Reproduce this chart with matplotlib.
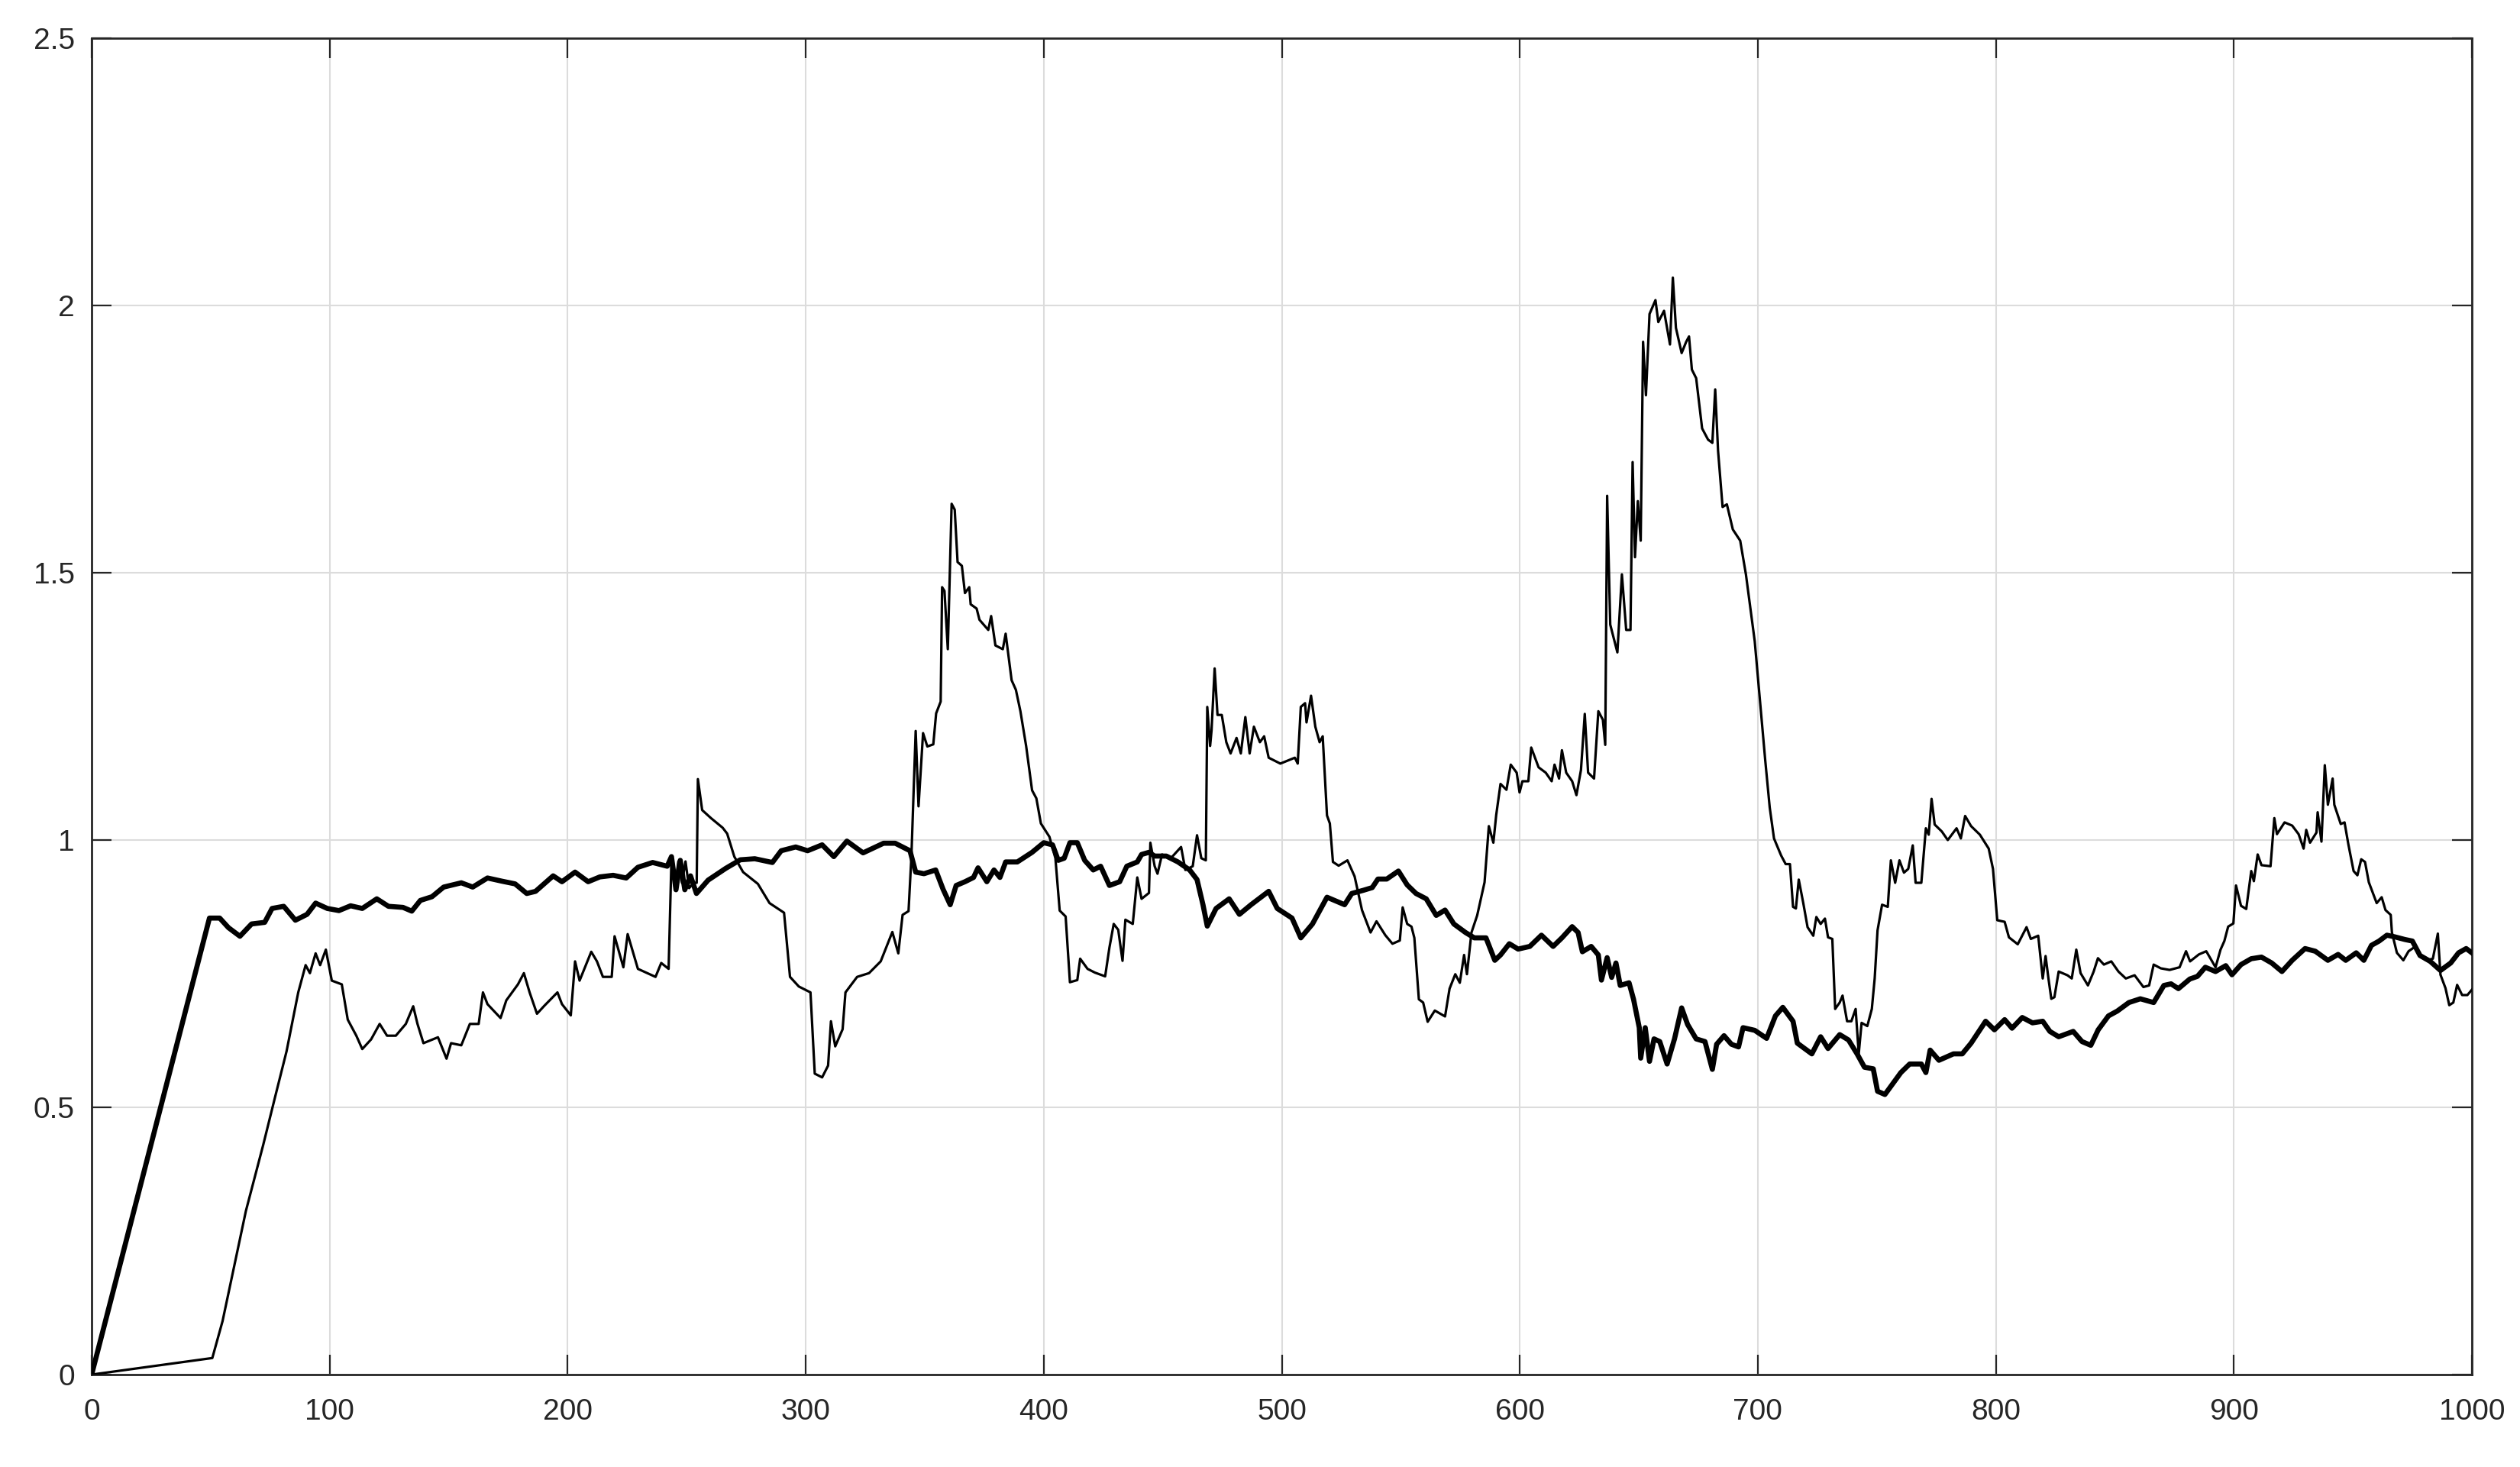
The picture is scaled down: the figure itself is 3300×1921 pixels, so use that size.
import matplotlib
matplotlib.use("Agg")
import matplotlib.pyplot as plt

# series values
x_thick = [0, 49.5, 53.8, 57.5, 62.3, 67.2, 72.7, 75.8, 80.7, 85.6, 90.5, 94.1, 99, 103.9,
           108.8, 113.7, 119.8, 124.7, 130.8, 134.5, 138.1, 143, 147.9, 155.3, 160.1, 166.3,
           172.4, 177.9, 182.8, 186.5, 193.9, 197.6, 203.1, 208.6, 213.5, 219.1, 224.6, 229.5,
           235.7, 241.8, 243.6, 245.5, 247.3, 249.2, 251.6, 254.1, 259, 266.4, 272.5, 278.6,
           286, 289.7, 295.8, 300.8, 306.9, 311.8, 317.3, 324.1, 332.7, 337.6, 343.8, 346.2,
           349.7, 354.6, 357.7, 360.7, 363.2, 366.9, 370.5, 372.4, 376.1, 379.1, 381.6, 384,
           388.9, 395.1, 400, 403.7, 406.1, 408.6, 411, 414.1, 417.2, 420.8, 423.9, 427.6,
           431.9, 434.9, 439.3, 441.1, 444.2, 446.6, 451.5, 456.4, 461.3, 464.4, 466.9, 468.7,
           472.4, 477.9, 482.2, 487.1, 494.5, 498.1, 504.3, 508, 512.9, 519, 522.7, 526.4,
           529.4, 534.3, 538, 540.4, 544.1, 549, 552.7, 556.4, 560.7, 564.9, 568.6, 572.3,
           577.2, 580.9, 585.8, 589.5, 591.9, 595.6, 599.3, 604.2, 609.1, 614, 617.7, 622,
           624.5, 626.3, 630, 633, 634.3, 636.7, 638.6, 640.4, 642.2, 645.9, 647.8, 650.2,
           650.8, 652.7, 654.5, 656.4, 658.8, 661.9, 665, 668, 670.5, 674.1, 677.8, 680.9,
           682.7, 685.8, 688.9, 691.9, 693.8, 698.7, 703.7, 707.4, 710.5, 714.8, 716.6, 722.7,
           726.4, 729.5, 734.4, 738.1, 741.7, 744.8, 748.5, 750.3, 753.4, 756.5, 760.1, 763.8,
           768.7, 770.6, 772.4, 776.1, 782.2, 785.9, 789.6, 795.7, 799.4, 803.7, 806.8, 811.1,
           815.4, 819.7, 822.7, 826.4, 832.5, 836.2, 839.9, 843, 847.3, 851, 855.9, 860.7,
           866.3, 870.6, 873.6, 876.7, 881.5, 884.7, 888, 892.3, 896.6, 899.2, 903, 907.3,
           911.6, 915.9, 920.2, 924.5, 929.9, 934.2, 939.5, 943.8, 947, 951.4, 954.6, 957.8,
           961, 964.3, 967.5, 971.8, 975, 978.2, 982.5, 986.8, 991.1, 994.4, 997.6, 1000]
y_thick = [0, 0.854, 0.854, 0.836, 0.82, 0.843, 0.846, 0.872, 0.876, 0.85, 0.861, 0.882, 0.872, 0.868,
           0.877, 0.872, 0.89, 0.876, 0.874, 0.867, 0.887, 0.894, 0.912, 0.92, 0.912, 0.929,
           0.923, 0.918, 0.9, 0.904, 0.933, 0.922, 0.94, 0.922, 0.931, 0.934, 0.929, 0.949,
           0.958, 0.951, 0.969, 0.907, 0.962, 0.907, 0.933, 0.9, 0.925, 0.947, 0.963, 0.965,
           0.958, 0.98, 0.987, 0.98, 0.991, 0.969, 0.998, 0.976, 0.994, 0.994, 0.98, 0.94,
           0.937, 0.944, 0.908, 0.879, 0.915, 0.922, 0.93, 0.948, 0.922, 0.944, 0.93, 0.959,
           0.959, 0.977, 0.995, 0.991, 0.962, 0.966, 0.995, 0.995, 0.962, 0.944, 0.951, 0.915,
           0.922, 0.951, 0.959, 0.973, 0.977, 0.97, 0.97, 0.959, 0.944, 0.926, 0.879, 0.839,
           0.872, 0.89, 0.861, 0.879, 0.904, 0.872, 0.854, 0.817, 0.843, 0.893, 0.886, 0.879,
           0.9, 0.906, 0.911, 0.927, 0.927, 0.942, 0.916, 0.9, 0.89, 0.859, 0.869, 0.843,
           0.827, 0.817, 0.817, 0.775, 0.785, 0.806, 0.796, 0.801, 0.822, 0.801, 0.817, 0.838,
           0.827, 0.791, 0.801, 0.785, 0.738, 0.78, 0.743, 0.77, 0.728, 0.733, 0.702, 0.649,
           0.592, 0.649, 0.586, 0.628, 0.623, 0.581, 0.628, 0.686, 0.655, 0.628, 0.623, 0.571,
           0.618, 0.634, 0.618, 0.613, 0.649, 0.644, 0.629, 0.671, 0.687, 0.661, 0.62, 0.6,
           0.632, 0.61, 0.636, 0.626, 0.6, 0.575, 0.572, 0.53, 0.524, 0.543, 0.565, 0.581,
           0.581, 0.565, 0.607, 0.588, 0.6, 0.6, 0.62, 0.661, 0.645, 0.664, 0.648, 0.668,
           0.658, 0.661, 0.642, 0.632, 0.642, 0.623, 0.616, 0.645, 0.671, 0.68, 0.696, 0.703,
           0.696, 0.728, 0.731, 0.722, 0.74, 0.745, 0.762, 0.754, 0.765, 0.748, 0.767, 0.778,
           0.781, 0.77, 0.754, 0.775, 0.797, 0.792, 0.775, 0.786, 0.775, 0.789, 0.775, 0.803,
           0.811, 0.822, 0.819, 0.814, 0.811, 0.784, 0.773, 0.756, 0.77, 0.789, 0.797, 0.789]

x_thin = [0, 50.7, 55, 59.9, 64.8, 72.1, 77, 81.9, 86.8, 89.9, 91.7, 94.1, 96, 98.4, 100.9,
          105.1, 107.6, 111.2, 113.7, 117.4, 121, 124.1, 127.8, 132, 135.1, 136.9, 139.4,
          145.5, 149.1, 151, 155.3, 158.9, 162.6, 164.4, 166.3, 171.8, 174.2, 179.1, 181.6,
          184, 187.1, 190.2, 195.7, 197.6, 201.3, 203.1, 205, 209.9, 212.3, 214.8, 218.5,
          219.7, 223.4, 225.2, 229.5, 236.9, 239.3, 242.4, 243.6, 245, 246.5, 248, 249.5, 251,
          253, 254.2, 254.7, 256.5, 260.2, 265.1, 267, 270, 273.7, 279.9, 284.8, 290.9, 293.4,
          297.1, 302, 303.8, 306.9, 309.4, 310.6, 312.4, 315.5, 316.7, 321.6, 326.6, 331.5,
          336.4, 338.9, 340.7, 343.2, 344.4, 346.2, 347.4, 349.3, 351.1, 353.6, 354.8, 356.7,
          357.3, 358.3, 359.7, 361.3, 362.6, 363.8, 365.6, 366.9, 368.7, 369.3, 371.8, 373,
          376.7, 377.9, 379.7, 382.8, 384, 386.5, 388.3, 390.2, 392.6, 395.1, 396.9, 398.8,
          402.4, 404.9, 406.7, 409.2, 411, 414.1, 415.3, 418.4, 421.5, 425.8, 427.6, 429.4,
          431.3, 433.1, 434.3, 437.4, 439.3, 441.1, 444.2, 444.8, 446.6, 447.8, 449.7, 453.4,
          457.7, 459.5, 462.6, 464.4, 466.2, 468.1, 468.7, 469.9, 470.5, 471.8, 473, 474.8,
          476.7, 478.5, 481, 482.8, 484.7, 486.5, 488.3, 490.8, 492.6, 494.5, 499.4, 505.5,
          506.7, 508, 509.8, 510.4, 512.3, 514.1, 515.9, 517.2, 519, 520.2, 521.5, 523.9,
          527.6, 530.6, 533.7, 537.3, 539.8, 543.5, 546.5, 549.6, 550.8, 552.7, 554.5, 555.7,
          557.6, 559.4, 561.3, 564.3, 568.6, 570.5, 572.9, 574.8, 576.6, 577.8, 579.7, 582.1,
          585.2, 587, 588.9, 590.1, 591.9, 594.4, 596.2, 598.7, 599.9, 601.1, 603.6, 604.8,
          607.9, 610.9, 613.4, 614.6, 616.5, 617.7, 619.5, 622, 623.8, 625.7, 627.3, 628.7,
          631.2, 633, 634.9, 635.9, 636.7, 638, 641, 642.9, 644.7, 646.5, 647.4, 648.4, 649.6,
          650.8, 651.8, 653, 654.5, 657, 658.2, 660.6, 663.1, 664.3, 665.6, 668, 669.9, 671.1,
          672.3, 674.1, 676.6, 679.1, 680.9, 682.1, 683.3, 685.2, 687, 689.5, 692.6, 695,
          698.7, 701.3, 703.1, 705, 706.8, 709.8, 711.7, 713.5, 714.8, 716, 717.2, 719.1,
          720.9, 723.3, 724.6, 726.4, 728.2, 729.5, 731.3, 732.5, 734.4, 735.6, 737.5, 739.3,
          741.1, 742.4, 743.6, 746, 747.9, 749.1, 750.3, 752.2, 754.6, 755.9, 757.7, 759.5,
          761.4, 763.2, 765.1, 766.3, 768.7, 770.6, 771.8, 773, 774.3, 777.3, 779.8, 783.5,
          785.3, 787.1, 789.6, 793.3, 797, 798.8, 800.6, 803.7, 805.5, 809.2, 812.9, 814.7,
          817.8, 819.7, 820.9, 822.1, 823.3, 824.6, 826.4, 830.1, 831.9, 833.8, 835.6, 838.7,
          841.1, 842.9, 845.4, 848.5, 851.5, 854.6, 858.3, 862, 864.4, 866.3, 869.3, 873,
          877.2, 879.9, 881.6, 885.3, 888.4, 892.3, 894.4, 896, 897.6, 899.8, 900.9, 903,
          905.2, 907.3, 908.4, 910, 911.6, 915.4, 917, 918.1, 921.3, 924.5, 927.2, 929.3,
          930.4, 932, 934.7, 935.2, 936.8, 938.2, 939.5, 941.5, 942.2, 944.9, 946.5, 948.1,
          950.3, 951.9, 953.5, 955.1, 956.7, 960, 962.1, 963.7, 965.9, 966.4, 968.5, 971.2,
          973.4, 976, 978.2, 980.9, 983.6, 985.7, 986.8, 988.9, 990.5, 992.2, 993.8, 995.9,
          998.1, 1000]
y_thin = [0, 0.031, 0.1, 0.203, 0.306, 0.43, 0.518, 0.605, 0.715, 0.766, 0.751, 0.788, 0.766, 0.795, 0.737,
          0.73, 0.664, 0.634, 0.609, 0.627, 0.656, 0.634, 0.634, 0.656, 0.689, 0.656, 0.62,
          0.631, 0.591, 0.62, 0.616, 0.656, 0.656, 0.715, 0.693, 0.667, 0.7, 0.73, 0.751,
          0.715, 0.675, 0.69, 0.715, 0.693, 0.672, 0.773, 0.737, 0.791, 0.773, 0.744, 0.744,
          0.82, 0.762, 0.824, 0.759, 0.744, 0.77, 0.759, 0.965, 0.91, 0.96, 0.92, 0.96, 0.91,
          0.92, 0.92, 1.114, 1.056, 1.041, 1.023, 1.012, 0.969, 0.94, 0.918, 0.882, 0.864, 0.744,
          0.726, 0.715, 0.563, 0.556, 0.578, 0.661, 0.614, 0.646, 0.715, 0.744, 0.751, 0.773,
          0.828, 0.788, 0.86, 0.867, 0.969, 1.204, 1.063, 1.2, 1.175, 1.179, 1.237, 1.259,
          1.473, 1.466, 1.357, 1.629, 1.618, 1.52, 1.513, 1.462, 1.473, 1.441, 1.433, 1.412,
          1.393, 1.419, 1.364, 1.357, 1.386, 1.299, 1.281, 1.241, 1.176, 1.093, 1.078, 1.031,
          1.006, 0.966, 0.868, 0.857, 0.734, 0.738, 0.778, 0.759, 0.752, 0.745, 0.799, 0.843,
          0.832, 0.774, 0.851, 0.843, 0.93, 0.89, 0.901, 0.995, 0.951, 0.937, 0.973, 0.966,
          0.987, 0.944, 0.951, 1.009, 0.966, 0.962, 1.249, 1.176, 1.205, 1.321, 1.234, 1.234,
          1.183, 1.162, 1.191, 1.162, 1.23, 1.162, 1.212, 1.183, 1.194, 1.154, 1.143, 1.154,
          1.143, 1.249, 1.256, 1.22, 1.27, 1.212, 1.183, 1.194, 1.046, 1.031, 0.959, 0.952,
          0.962, 0.932, 0.869, 0.827, 0.848, 0.822, 0.806, 0.812, 0.874, 0.843, 0.838, 0.817,
          0.702, 0.696, 0.66, 0.681, 0.67, 0.722, 0.749, 0.733, 0.785, 0.749, 0.827, 0.859,
          0.921, 1.026, 0.995, 1.047, 1.105, 1.094, 1.141, 1.126, 1.089, 1.11, 1.11, 1.173,
          1.136, 1.126, 1.11, 1.141, 1.115, 1.168, 1.126, 1.11, 1.084, 1.131, 1.236, 1.126,
          1.115, 1.241, 1.225, 1.178, 1.644, 1.403, 1.351, 1.497, 1.393, 1.393, 1.707, 1.529, 1.634,
          1.56, 1.932, 1.832, 1.984, 2.01, 1.969, 1.99, 1.927, 2.052, 1.958, 1.911, 1.932, 1.942,
          1.88, 1.864, 1.77, 1.749, 1.743, 1.843, 1.728, 1.623, 1.628, 1.581, 1.56, 1.497,
          1.372, 1.24, 1.15, 1.061, 1.003, 0.971, 0.955, 0.955, 0.875, 0.872, 0.926, 0.882,
          0.837, 0.821, 0.856, 0.843, 0.853, 0.818, 0.815, 0.684, 0.696, 0.709, 0.661, 0.661,
          0.684, 0.6, 0.658, 0.652, 0.684, 0.741, 0.831, 0.879, 0.875, 0.962, 0.92, 0.962,
          0.939, 0.946, 0.99, 0.92, 0.92, 1.022, 1.01, 1.077, 1.029, 1.016, 1.0, 1.022,
          1.003, 1.045, 1.026, 1.01, 0.984, 0.946, 0.85, 0.847, 0.818, 0.805, 0.837, 0.815,
          0.821, 0.741, 0.783, 0.741, 0.703, 0.706, 0.754, 0.747, 0.741, 0.795, 0.751, 0.728,
          0.754, 0.779, 0.767, 0.773, 0.754, 0.741, 0.747, 0.725, 0.728, 0.767, 0.76, 0.757,
          0.762, 0.792, 0.773, 0.786, 0.792, 0.762, 0.795, 0.811, 0.838, 0.844, 0.915, 0.877,
          0.871, 0.942, 0.923, 0.973, 0.953, 0.951, 1.041, 1.011, 1.033, 1.027, 1.011, 0.984,
          1.019, 0.995, 1.014, 1.052, 0.997, 1.14, 1.066, 1.115, 1.066, 1.03, 1.033, 0.992,
          0.942, 0.934, 0.964, 0.959, 0.921, 0.882, 0.893, 0.869, 0.86, 0.827, 0.789, 0.775,
          0.792, 0.8, 0.784, 0.775, 0.778, 0.825, 0.748, 0.723, 0.691, 0.696, 0.729, 0.71,
          0.71, 0.72]

x_ticks = [0, 100, 200, 300, 400, 500, 600, 700, 800, 900, 1000]
y_ticks = [0, 0.5, 1, 1.5, 2, 2.5]
y_tick_labels = ['0', '0.5', '1', '1.5', '2', '2.5']

plt.rcParams['font.family'] = ['Liberation Sans', 'DejaVu Sans']

fig = plt.figure(figsize=(33, 19.21), dpi=100)
ax = fig.add_axes([120 / 3300, 1 - 1800 / 1921, 3117 / 3300, 1750 / 1921])

ax.plot(x_thick, y_thick, color='black', linewidth=4.8, solid_joinstyle='round', zorder=3)
ax.plot(x_thin, y_thin, color='black', linewidth=2.3, solid_joinstyle='round', zorder=4)

ax.set_xlim(0, 1000)
ax.set_ylim(0, 2.5)
ax.set_xticks(x_ticks)
ax.set_yticks(y_ticks)
ax.set_yticklabels(y_tick_labels)

axis_grey = '#262626'
ax.grid(True, color='#dcdcdc', linewidth=1.5)
ax.set_axisbelow(True)
for s in ax.spines.values():
    s.set_color(axis_grey)
    s.set_linewidth(2.0)
ax.tick_params(axis='both', which='major', direction='in', length=19, width=1.6,
               color=axis_grey, labelcolor=axis_grey, labelsize=28,
               top=True, right=True)
ax.tick_params(axis='x', pad=22)
ax.tick_params(axis='y', pad=16)

fig.savefig('out.png', dpi=100)
